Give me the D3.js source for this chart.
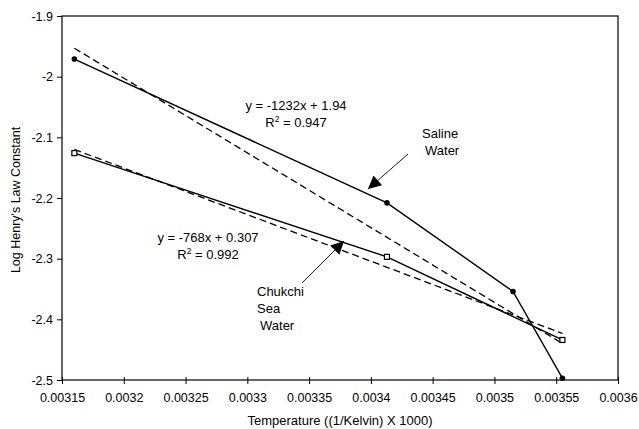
<!DOCTYPE html>
<html>
<head>
<meta charset="utf-8">
<script src="https://cdn.jsdelivr.net/npm/d3@7"></script>
<style>
  body { margin: 0; background: #fff; }
  svg text { font-family: "Liberation Sans", Arial, sans-serif; fill: #000; }
</style>
</head>
<body>
<svg id="chart" width="639" height="429"></svg>
<script>
// data
var salineX = [0.00316, 0.003413, 0.003515, 0.003555]
var salineY = [-1.971, -2.208, -2.354, -2.497]
var chukchiX = [0.00316, 0.003413, 0.003555]
var chukchiY = [-2.126, -2.297, -2.434]
var xTicks = [0.00315, 0.0032, 0.00325, 0.0033, 0.00335, 0.0034, 0.00345, 0.0035, 0.00355, 0.0036]
var yTicks = [-1.9, -2, -2.1, -2.2, -2.3, -2.4, -2.5]
// trend lines as printed on the chart
var salineFit = { slope: -1232, icept: 1.94, r2: "0.947" }
var chukchiFit = { slope: -768, icept: 0.307, r2: "0.992" }

var svg = d3.select("#chart")
var margin = { top: 16, right: 21, bottom: 49, left: 62 }
var width = +svg.attr("width") - margin.left - margin.right
var height = +svg.attr("height") - margin.top - margin.bottom

var g = svg.append("g").attr("transform", translate(margin.left, margin.top))

var x = d3.scaleLinear().domain([0.00315, 0.0036]).range([0, width])
var y = d3.scaleLinear().domain([-2.5, -1.9]).range([height, 0])

// frame
g.append("rect")
    .attr("width", width).attr("height", height)
    .attr("fill", "none").attr("stroke", "#000").attr("stroke-width", 1.2)

var xAxis = g.append("g")
    .attr("transform", translate(0, height))
    .call(d3.axisBottom(x).tickValues(xTicks).tickSize(4).tickFormat(d => String(+d.toFixed(5))))
var yAxis = g.append("g")
    .call(d3.axisLeft(y).tickValues(yTicks).tickSize(5).tickFormat(d => String(+d.toFixed(1))))

;[xAxis, yAxis].forEach(a => {
    a.select(".domain").remove()
    a.selectAll("text").attr("font-size", 12.5).style("font-family", "'Liberation Sans', Arial, sans-serif")
    a.selectAll("line").attr("stroke", "#000")
})
xAxis.selectAll("line").attr("y1", -3)
xAxis.selectAll("text").attr("dy", "1.2em")
yAxis.selectAll("text").attr("x", -9)

// axis titles
g.append("text")
    .attr("x", width / 2).attr("y", height + 45)
    .attr("text-anchor", "middle").attr("font-size", 13)
    .text("Temperature ((1/Kelvin) X 1000)")
g.append("text")
    .attr("transform", "translate(" + (-42) + "," + (height / 2 + 2) + ") rotate(-90)")
    .attr("text-anchor", "middle").attr("font-size", 12.5)
    .text("Log Henry's Law Constant")

var line = d3.line().x(d => x(d[0])).y(d => y(d[1]))

function fitPoints(xs, fit) {
    var x0 = d3.min(xs), x1 = d3.max(xs)
    return [[x0, fit.slope * x0 + fit.icept], [x1, fit.slope * x1 + fit.icept]]
}

// regression lines
;[[salineX, salineFit], [chukchiX, chukchiFit]].forEach(p => {
    g.append("path")
        .attr("d", line(fitPoints(p[0], p[1])))
        .attr("fill", "none").attr("stroke", "#000")
        .attr("stroke-width", 1.3).attr("stroke-dasharray", "7,4")
})

// data lines
var saline = d3.zip(salineX, salineY)
var chukchi = d3.zip(chukchiX, chukchiY)
g.append("path").attr("d", line(saline))
    .attr("fill", "none").attr("stroke", "#000").attr("stroke-width", 1.4)
g.append("path").attr("d", line(chukchi))
    .attr("fill", "none").attr("stroke", "#000").attr("stroke-width", 1.4)

g.selectAll(".sal").data(saline).enter().append("circle")
    .attr("cx", d => x(d[0])).attr("cy", d => y(d[1])).attr("r", 2.8).attr("fill", "#000")
g.selectAll(".chk").data(chukchi).enter().append("rect")
    .attr("x", d => x(d[0]) - 2.5).attr("y", d => y(d[1]) - 2.5)
    .attr("width", 5).attr("height", 5)
    .attr("fill", "#fff").attr("stroke", "#000").attr("stroke-width", 1.2)

// equations
function equation(cx, cy, fit) {
    g.append("text").attr("x", cx).attr("y", cy).attr("text-anchor", "middle").attr("font-size", 13)
        .text("y = " + fit.slope + "x + " + fit.icept)
    var t = g.append("text").attr("x", cx).attr("y", cy + 17).attr("text-anchor", "middle").attr("font-size", 13)
    t.append("tspan").text("R")
    t.append("tspan").attr("font-size", 8.5).attr("dy", -5).text("2")
    t.append("tspan").attr("dy", 5).text(" = " + fit.r2)
}
equation(296 - margin.left, 110 - margin.top, salineFit)
equation(208 - margin.left, 242 - margin.top, chukchiFit)

// labels with arrows
svg.append("defs").append("marker")
    .attr("id", "arrow").attr("viewBox", "0 0 10 10")
    .attr("refX", 10).attr("refY", 5)
    .attr("markerWidth", 15).attr("markerHeight", 13)
    .attr("markerUnits", "userSpaceOnUse")
    .attr("orient", "auto")
    .append("path").attr("d", "M0,0L10,5L0,10z").attr("fill", "#000")

function label(lines, lx, ly, from, to) {
    var t = g.append("text").attr("font-size", 13)
    lines.forEach((s, i) => {
        t.append("tspan").attr("x", lx[i] - margin.left).attr("y", ly + i * 17 - margin.top).text(s)
    })
    g.append("line")
        .attr("x1", from[0] - margin.left).attr("y1", from[1] - margin.top)
        .attr("x2", to[0] - margin.left).attr("y2", to[1] - margin.top)
        .attr("stroke", "#000").attr("stroke-width", 0.9)
        .attr("marker-end", "url(#arrow)")
}
label(["Saline", "Water"], [422, 425], 138, [408, 154], [368, 189])
label(["Chukchi", "Sea", "Water"], [257, 257, 260], 296, [302, 283], [344, 241])

function translate(x, y) {
    return "translate(" + x + "," + y + ")"
}
</script>
</body>
</html>
